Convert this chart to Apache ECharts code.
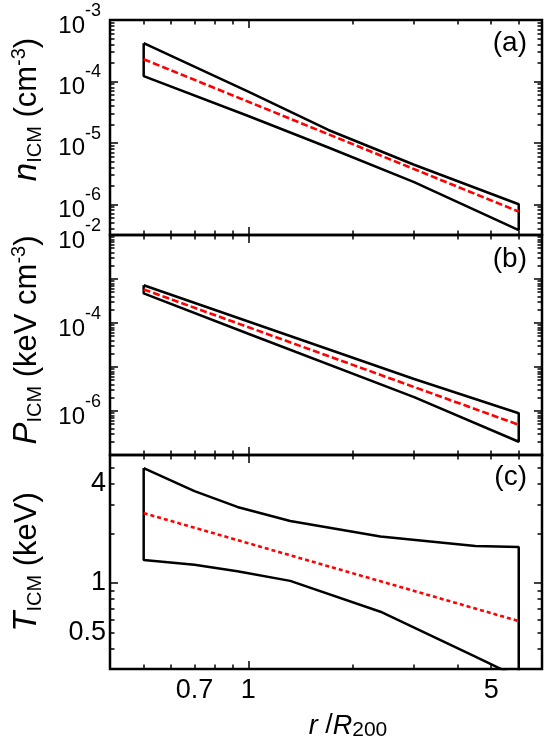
<!DOCTYPE html>
<html><head><meta charset="utf-8">
<script src="https://cdn.jsdelivr.net/npm/echarts@6/dist/echarts.min.js"></script>
<style>html,body{margin:0;padding:0;background:#fff}#c{width:545px;height:742px;background:#fff}</style>
</head><body><div id="c"></div>
<script>
const FONT = '"Liberation Sans", Arial, sans-serif';

// ---- data ----
// x: r / R200
const rA = [0.5, 1, 1.7, 3, 6];
const nUpper = [4.2e-4, 6.8e-5, 1.62e-5, 4.4e-6, 1.0e-6];
const nLower = [1.22e-4, 2.74e-5, 8.4e-6, 2.3e-6, 3.8e-7];
const rFit = [0.5, 6];
const nFit = [2.3e-4, 7.6e-7];

const rB = [0.5, 1, 3, 6];
const pUpper = [7.2e-4, 1.08e-4, 5.35e-6, 8.9e-7];
const pLower = [4.7e-4, 5.7e-5, 2.07e-6, 2.0e-7];
const pFit = [5.8e-4, 4.86e-7];

const rC = [0.5, 0.7, 0.93, 1.32, 2.4, 4.5, 6];
const tUpper = [5.0, 3.62, 2.90, 2.38, 1.92, 1.68, 1.655];
const tLower = [1.38, 1.29, 1.18, 1.03, 0.669, 0.357, 0.266];
const tFit = [2.66, 0.587];

// ticks / labels
const xRange = [0.4, 7];
const xMajorTicks = [1];
const xMinorTicks = [0.5, 0.6, 0.7, 0.8, 0.9, 2, 3, 4, 5, 6];
const xLabels = [0.7, 1, 5];

const aRange = [10 ** -6.5, 1e-3];
const aDecadeTicks = [1e-6, 1e-5, 1e-4, 1e-3];
const aLabels = [1e-6, 1e-5, 1e-4, 1e-3];
const bRange = [1e-7, 1e-2];
const bDecadeTicks = [1e-7, 1e-6, 1e-5, 1e-4, 1e-3, 1e-2];
const bLabels = [1e-6, 1e-4, 1e-2];
const cRange = [0.3, 6];
const cMajorTicks = [1];
const cMinorTicks = [0.4, 0.5, 0.6, 0.7, 0.8, 0.9, 2, 3, 4, 5];
const cLabels = [0.5, 1, 4];

// ---- helpers ----
const L = v => Math.log10(v);
function minorLog(lo, hi) {
  const out = [];
  for (let d = Math.floor(L(lo)) - 1; d <= Math.ceil(L(hi)); d++) {
    for (let k = 2; k <= 9; k++) {
      const v = k * Math.pow(10, d);
      if (v > lo * 1.0001 && v < hi * 0.9999) out.push(v);
    }
  }
  return out;
}
function band(r, up, lo) {
  const pts = r.map((x, i) => [L(x), L(up[i])]);
  for (let i = r.length - 1; i >= 0; i--) pts.push([L(r[i]), L(lo[i])]);
  pts.push(pts[0]);
  return pts;
}
function fitLine(r, v) { return r.map((x, i) => [L(x), L(v[i])]); }
// position of a value on a log axis as a 0..1 fraction of the axis
const frac = (v, range) => (L(v) - L(range[0])) / (L(range[1]) - L(range[0]));

const MAJ = 8, MIN = 4.5;

const powRich = {
  b: { fontSize: 24, lineHeight: 36, verticalAlign: 'bottom', fontFamily: FONT, color: '#000' },
  s: { fontSize: 18, lineHeight: 18, verticalAlign: 'top', fontFamily: FONT, color: '#000' }
};
const powLabel = {
  margin: 9, rich: powRich,
  formatter: v => '{b|10}{s|' + Math.round(v) + '}'
};
const plainLabel = (margin) => ({
  margin, fontSize: 27, fontFamily: FONT, color: '#000',
  formatter: v => String(Number(Math.pow(10, v).toPrecision(3)))
});
const titleRich = {
  t: { fontSize: 31, lineHeight: 36, fontFamily: FONT, color: '#000' },
  i: { fontSize: 33, lineHeight: 36, fontStyle: 'italic', fontFamily: FONT, color: '#000' },
  sub: { fontSize: 20, lineHeight: 20, verticalAlign: 'bottom', fontFamily: FONT, color: '#000' },
  sup: { fontSize: 20, lineHeight: 20, verticalAlign: 'top', fontFamily: FONT, color: '#000' }
};

// data axis (carries labels and the axis title)
function dataAxis(grid, pos, range, labelVals, labelOpts, nameOpts) {
  const ax = {
    type: 'value', gridIndex: grid, position: pos, min: L(range[0]), max: L(range[1]),
    axisLine: { show: false, onZero: false }, splitLine: { show: false },
    axisTick: { show: false },
    axisLabel: labelVals ? Object.assign({ show: true, customValues: labelVals.map(L) }, labelOpts) : { show: false }
  };
  if (nameOpts) Object.assign(ax, nameOpts);
  return ax;
}
// tick-only axes on a 0..1 fraction scale
function tickAxes(grid, positions, range, major, minor) {
  const out = [];
  positions.forEach(pos => {
    [[major, MAJ], [minor, MIN]].forEach(([vals, len]) => {
      out.push({
        type: 'value', gridIndex: grid, position: pos, min: 0, max: 1,
        axisLine: { show: false, onZero: false }, splitLine: { show: false },
        axisTick: { show: true, inside: true, length: len,
                    customValues: vals.map(v => frac(v, range)),
                    lineStyle: { color: '#000', width: 1.5 } },
        axisLabel: { show: false }
      });
    });
  });
  return out;
}

const grids = [
  { left: 110, right: 3, top: 20, height: 215 },
  { left: 110, right: 3, top: 235, height: 220 },
  { left: 110, right: 3, top: 455, height: 214 }
].map(g => Object.assign(g, { show: true, borderColor: '#000', borderWidth: 2.5 }));

const xName = {
  name: '{i|r}{t| /}{i|R}{sub|200}', nameLocation: 'middle', nameGap: 42,
  nameTextStyle: { rich: {
    t: { fontSize: 27, lineHeight: 30, fontFamily: FONT, color: '#000' },
    i: { fontSize: 27, lineHeight: 30, fontStyle: 'italic', fontFamily: FONT, color: '#000' },
    sub: { fontSize: 21, lineHeight: 21, verticalAlign: 'bottom', fontFamily: FONT, color: '#000' }
  }, padding: [0, 0, 0, 44] }
};

// data axes first: indices 0,1,2
const xAxes = [
  dataAxis(0, 'bottom', xRange, null),
  dataAxis(1, 'bottom', xRange, null),
  dataAxis(2, 'bottom', xRange, xLabels, plainLabel(8), xName),
  ...[0, 1, 2].flatMap(g => tickAxes(g, ['bottom', 'top'], xRange, xMajorTicks, xMinorTicks))
];
const yAxes = [
  dataAxis(0, 'left', aRange, aLabels, powLabel, {
    name: '{i|n}{sub|ICM}{t| (cm}{sup|-3}{t|)}', nameLocation: 'middle', nameGap: 65, nameRotate: 90,
    nameTextStyle: { rich: titleRich, padding: [0, 0, 0, 36] }
  }),
  dataAxis(1, 'left', bRange, bLabels, powLabel, {
    name: '{i|P}{sub|ICM}{t| (keV cm}{sup|-3}{t|)}', nameLocation: 'middle', nameGap: 65, nameRotate: 90,
    nameTextStyle: { rich: titleRich, padding: [0, 0, 0, 10] }
  }),
  dataAxis(2, 'left', cRange, cLabels, plainLabel(4), {
    name: '{i|T}{sub|ICM}{t| (keV)}', nameLocation: 'middle', nameGap: 65, nameRotate: 90,
    nameTextStyle: { rich: titleRich }
  }),
  ...tickAxes(0, ['left', 'right'], aRange, aDecadeTicks, minorLog(aRange[0], aRange[1])),
  ...tickAxes(1, ['left', 'right'], bRange, bDecadeTicks, minorLog(bRange[0], bRange[1])),
  ...tickAxes(2, ['left', 'right'], cRange, cMajorTicks, cMinorTicks)
];

const blackLine = { color: '#000', width: 2.5 };
function lineSeries(g, data, style) {
  return { type: 'line', xAxisIndex: g, yAxisIndex: g, data, symbol: 'none',
           showSymbol: false, lineStyle: style, clip: true, silent: true, z: 3 };
}
const series = [
  lineSeries(0, band(rA, nUpper, nLower), blackLine),
  lineSeries(0, fitLine(rFit, nFit), { color: '#ff0000', width: 2.6, type: [7, 3] }),
  lineSeries(1, band(rB, pUpper, pLower), blackLine),
  lineSeries(1, fitLine(rFit, pFit), { color: '#ff0000', width: 2.6, type: [7, 3] }),
  lineSeries(2, band(rC, tUpper, tLower), blackLine),
  lineSeries(2, fitLine(rFit, tFit), { color: '#ff0000', width: 2.6, type: [4, 3] })
];

const panelTag = (txt, top) => ({ type: 'text', right: 18, top,
  style: { text: txt, font: '28px ' + FONT, fill: '#000' } });

const chart = echarts.init(document.getElementById('c'));
chart.setOption({
  animation: false,
  grid: grids,
  xAxis: xAxes,
  yAxis: yAxes,
  series,
  graphic: [panelTag('(a)', 29), panelTag('(b)', 245), panelTag('(c)', 463)]
});
</script></body></html>
